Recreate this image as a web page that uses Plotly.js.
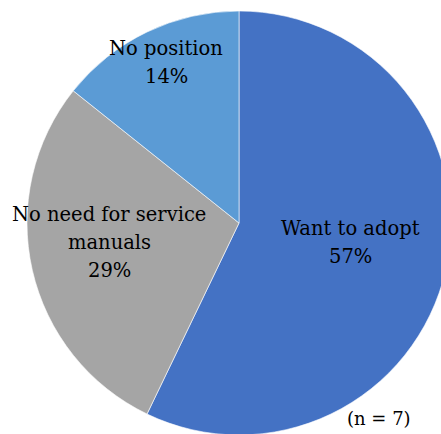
<!DOCTYPE html>
<html>
<head>
<meta charset="utf-8">
<script src="https://cdn.plot.ly/plotly-3.0.1.min.js"></script>
<style>
html,body{margin:0;padding:0;overflow:hidden;background:#fff;}
#chart{width:478px;height:446px;}
</style>
</head>
<body>
<div id="chart"></div>
<script>
// Data
var categories = ["Want to adopt", "No need for service|manuals", "No position"];
var values = [4, 2, 1];
var colors = ["#4472C4", "#A5A5A5", "#5B9BD5"];
var note = "(n = 7)";

// Layout helpers (pixel positions of label lines)
var W = 478, H = 446;
var labelX = [350, 109, 166];
var labelTopY = [228, 214.5, 49];
var LINE = 28;
var FONT = "DejaVu Serif, serif";
var FS = 19.5;

var total = values.reduce(function(a, b){ return a + b; }, 0);
var annotations = [];
categories.forEach(function(c, i){
  var pct = Math.round(values[i] / total * 100) + "%";
  var lines = c.split("|").concat([pct]);
  lines.forEach(function(t, k){
    annotations.push({
      text: t,
      x: labelX[i] / W, y: 1 - (labelTopY[i] + k * LINE) / H,
      xref: "paper", yref: "paper", xanchor: "center", yanchor: "middle",
      showarrow: false, align: "center",
      font: {family: FONT, size: FS, color: "#000"}
    });
  });
});
annotations.push({
  text: note, x: 379 / W, y: 1 - 418 / H, xref: "paper", yref: "paper",
  xanchor: "center", yanchor: "middle", showarrow: false,
  font: {family: FONT, size: 18, color: "#000"}
});

var R = 212, cx = 239, cy = 223;
var trace = {
  type: "pie",
  labels: categories,
  values: values,
  sort: false,
  direction: "clockwise",
  rotation: 0,
  textinfo: "none",
  hoverinfo: "none",
  marker: {colors: colors, line: {color: "#ffffff", width: 0.6}},
  domain: {x: [(cx - R) / W, (cx + R) / W], y: [1 - (cy + R) / H, 1 - (cy - R) / H]}
};

var layout = {
  width: W, height: H,
  margin: {l: 0, r: 0, t: 0, b: 0},
  showlegend: false,
  paper_bgcolor: "#fff",
  annotations: annotations
};

Plotly.newPlot("chart", [trace], layout, {staticPlot: true, displayModeBar: false});
</script>
</body>
</html>
